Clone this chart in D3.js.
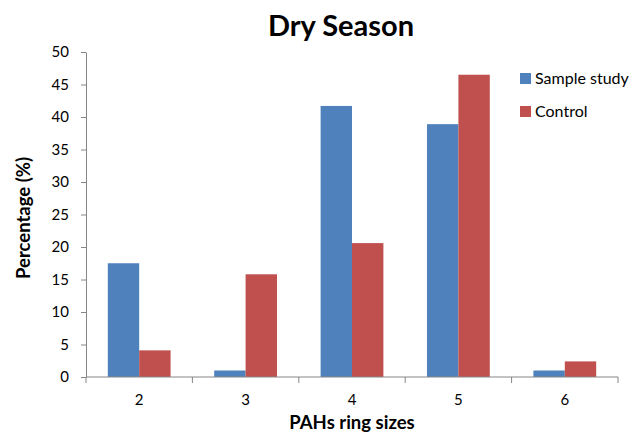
<!DOCTYPE html>
<html>
<head>
<meta charset="utf-8">
<script src="https://cdn.jsdelivr.net/npm/d3@7"></script>
<style>
  body { margin: 0; background: #fff; }
  text { font-family: Lato, "Open Sans", sans-serif; }
</style>
</head>
<body>
<svg id="chart" width="632" height="435"></svg>
<script>
const categories = ['2', '3', '4', '5', '6'];
const seriesNames = ['Sample study', 'Control'];
const sampleStudy = [17.5, 1.0, 41.7, 38.9, 1.0];
const control = [4.1, 15.8, 20.6, 46.5, 2.4];
const yTicks = [0, 5, 10, 15, 20, 25, 30, 35, 40, 45, 50];
const colors = ['#4f81bd', '#c0504d'];

const svg = d3.select('#chart');
const plotLeft = 86, plotRight = 618, plotTop = 52, plotBottom = 377;

const x = d3.scaleBand().domain(categories).range([plotLeft, plotRight]).paddingInner(0.41).paddingOuter(0.205);
const xSub = d3.scaleBand().domain(seriesNames).range([0, x.bandwidth()]);
const y = d3.scaleLinear().domain([0, 50]).range([plotBottom, plotTop]);

const series = [sampleStudy, control];

// bars
series.forEach((vals, si) => {
  svg.append('g').selectAll('rect')
    .data(vals)
    .join('rect')
    .attr('x', (d, i) => x(categories[i]) + xSub(seriesNames[si]))
    .attr('y', d => y(d))
    .attr('width', xSub.bandwidth())
    .attr('height', d => y(0) - y(d))
    .attr('fill', colors[si]);
});

// y axis
const yAxis = svg.append('g')
  .attr('transform', `translate(${plotLeft},0)`)
  .call(d3.axisLeft(y).tickValues(yTicks).tickSize(5).tickPadding(12).tickSizeOuter(0));
yAxis.select('.domain').attr('stroke', '#868686');
yAxis.selectAll('.tick line').attr('stroke', '#868686');
yAxis.selectAll('.tick text').attr('font-size', 15).attr('fill', '#000')
  .style('font-family', 'Lato, sans-serif');

// x axis with ticks at band boundaries
const xAxis = svg.append('g').attr('transform', `translate(0,${plotBottom})`);
xAxis.append('line').attr('x1', plotLeft).attr('x2', plotRight).attr('stroke', '#868686');
const boundaries = categories.map(c => x(c) - x.step() * x.paddingInner() / 2).concat([plotRight]);
xAxis.selectAll('line.tk').data(boundaries).join('line').attr('class', 'tk')
  .attr('x1', d => d).attr('x2', d => d).attr('y1', 0).attr('y2', 6).attr('stroke', '#868686');
xAxis.selectAll('text').data(categories).join('text')
  .attr('x', d => x(d) + x.bandwidth() / 2)
  .attr('y', 28)
  .attr('text-anchor', 'middle')
  .attr('font-size', 15)
  .text(d => d);

// title
svg.append('text').attr('x', 341).attr('y', 36).attr('text-anchor', 'middle')
  .attr('font-size', 29).attr('font-weight', 'bold').text('Dry Season');

// axis labels
svg.append('text').attr('x', 352).attr('y', 429).attr('text-anchor', 'middle')
  .attr('font-size', 18.5).attr('font-weight', 'bold').text('PAHs ring sizes');
svg.append('text').attr('transform', 'translate(30,218) rotate(-90)').attr('text-anchor', 'middle')
  .attr('font-size', 18.5).attr('font-weight', 'bold').text('Percentage (%)');

// legend
const legend = svg.append('g').attr('transform', 'translate(520,73)');
seriesNames.forEach((name, i) => {
  const g = legend.append('g').attr('transform', `translate(0,${i * 33})`);
  g.append('rect').attr('width', 11).attr('height', 11).attr('fill', colors[i]);
  g.append('text').attr('x', 15).attr('y', 11).attr('font-size', 16).text(name);
});
</script>
</body>
</html>
